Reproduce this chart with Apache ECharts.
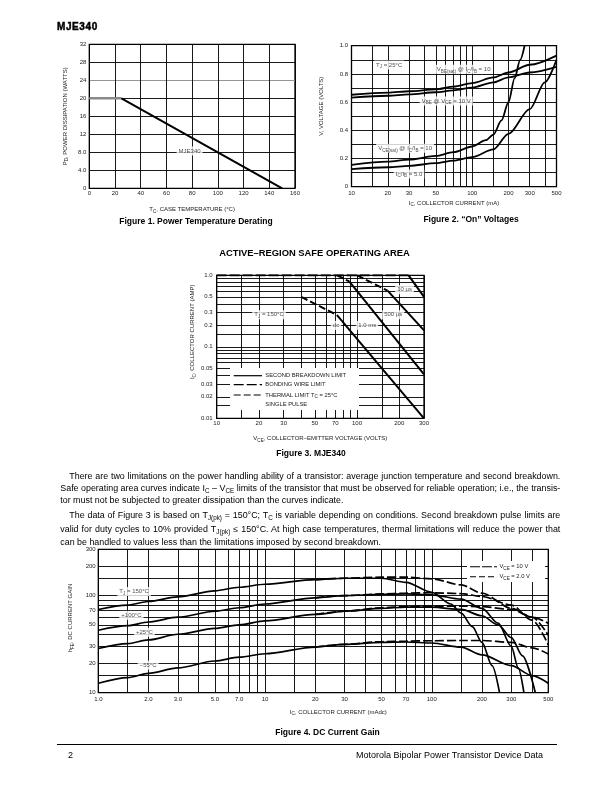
<!DOCTYPE html>
<html>
<head>
<meta charset="utf-8">
<title>MJE340</title>
<script src="https://cdn.jsdelivr.net/npm/echarts@6.0.0/dist/echarts.min.js"></script>
<style>
  html, body { margin:0; padding:0; background:#fff; }
  #page { position:relative; width:612px; height:792px; overflow:hidden; background:#fff;
          font-family:"Liberation Sans", Arial, Helvetica, sans-serif; color:#000; }
  #chart { position:absolute; left:0; top:0; width:612px; height:792px; }
  .txt { position:absolute; white-space:nowrap; line-height:10px; z-index:2; }
  .c { transform:translateX(-50%); }
  .cap { font-weight:bold; font-size:8.5px; }
  .para { font-size:8.9px; text-align:justify; text-align-last:justify; }
  .para.last { text-align-last:left; }
  sub { font-size:6.3px; vertical-align:-2px; line-height:0; }
</style>
</head>
<body>
<div id="page">
  <div id="chart"></div>
  <div class="txt" style="left:57px;top:21.5px;font-weight:900;font-size:10px;letter-spacing:0.6px;-webkit-text-stroke:0.45px #000;">MJE340</div>
  <div class="txt c cap" style="left:196px;top:215.5px;">Figure 1. Power Temperature Derating</div>
  <div class="txt c cap" style="left:471px;top:214px;">Figure 2. “On” Voltages</div>
  <div class="txt c" style="left:314.5px;top:248px;font-weight:bold;font-size:9.4px;">ACTIVE–REGION SAFE OPERATING AREA</div>
  <div class="txt c cap" style="left:311px;top:448.3px;">Figure 3. MJE340</div>

  <div class="txt para" style="left:69.3px;top:471px;width:491px;">There are two limitations on the power handling ability of a transistor: average junction temperature and second breakdown.</div>
  <div class="txt para" style="left:60.3px;top:483.3px;width:500px;">Safe operating area curves indicate I<sub>C</sub> – V<sub>CE</sub> limits of the transistor that must be observed for reliable operation; i.e., the transis-</div>
  <div class="txt para last" style="left:60.3px;top:495px;width:500px;">tor must not be subjected to greater dissipation than the curves indicate.</div>
  <div class="txt para" style="left:69.3px;top:509.7px;width:491px;">The data of Figure 3 is based on T<sub>J(pk)</sub> = 150°C; T<sub>C</sub> is variable depending on conditions. Second breakdown pulse limits are</div>
  <div class="txt para" style="left:60.3px;top:524.1px;width:500px;">valid for duty cycles to 10% provided T<sub>J(pk)</sub> ≤ 150°C. At high case temperatures, thermal limitations will reduce the power that</div>
  <div class="txt para last" style="left:60.3px;top:537px;width:500px;">can be handled to values less than the limitations imposed by second breakdown.</div>

  <div class="txt c cap" style="left:327.5px;top:727.3px;">Figure 4. DC Current Gain</div>
  <div style="position:absolute;left:57px;top:743.5px;width:500px;height:1.6px;background:#000;"></div>
  <div class="txt" style="left:68px;top:749.5px;font-size:9px;">2</div>
  <div class="txt" style="right:69px;top:749.5px;font-size:9px;">Motorola Bipolar Power Transistor Device Data</div>
</div>
<script>
// ================= DATA =================
// Figure 1 – power derating
const fig1TempC = [0, 25, 150];
const fig1PowerW = [20, 20, 0];
const fig1XTickText = ['0', '20', '40', '60', '80', '100', '120', '140', '160'];
const fig1YTickText = ['0', '4.0', '8.0', '12', '16', '20', '24', '28', '32'];

// Figure 2 – "On" voltages (IC in mA, V in volts)
const fig2VbeSatIc = [10, 20, 30, 50, 70, 100, 150, 200, 300, 500];
const fig2VbeSatV  = [0.652, 0.667, 0.677, 0.69, 0.71, 0.735, 0.775, 0.81, 0.865, 0.93];
const fig2VbeIc    = [10, 20, 30, 50, 70, 100, 150, 200, 300, 500];
const fig2VbeV     = [0.632, 0.645, 0.655, 0.67, 0.683, 0.703, 0.74, 0.775, 0.81, 0.85];
const fig2VceSat10Ic = [10, 20, 30, 50, 70, 100, 130, 150, 175, 200, 225, 250, 272];
const fig2VceSat10V  = [0.155, 0.178, 0.192, 0.218, 0.245, 0.285, 0.33, 0.37, 0.47, 0.6, 0.77, 0.9, 1.0];
const fig2VceSat5Ic  = [10, 20, 30, 50, 70, 100, 150, 200, 300, 400, 500];
const fig2VceSat5V   = [0.125, 0.138, 0.148, 0.167, 0.185, 0.21, 0.265, 0.375, 0.55, 0.74, 0.9];
const fig2XGrid = [10, 15, 20, 30, 40, 50, 60, 70, 80, 90, 100, 150, 200, 300, 400, 500];
const fig2XTickText = ['10', '20', '30', '50', '100', '200', '300', '500'];
const fig2YTickText = ['0', '', '0.2', '', '0.4', '', '0.6', '', '0.8', '', '1.0'];

// Figure 3 – safe operating area (VCE volts, IC amps)
const fig3BondV = [10, 233];           const fig3BondA = [1.0, 1.0];
const fig3DcThermV = [40, 72];         const fig3DcThermA = [0.5, 0.278];
const fig3DcSbV = [72, 300];           const fig3DcSbA = [0.278, 0.01];
const fig3Ms1ThermV = [72, 88];        const fig3Ms1ThermA = [1.0, 0.82];
const fig3Ms1SbV = [88, 300];          const fig3Ms1SbA = [0.82, 0.041];
const fig3Us500ThermV = [100, 165];    const fig3Us500ThermA = [1.0, 0.61];
const fig3Us500SbV = [165, 300];       const fig3Us500SbA = [0.61, 0.17];
const fig3Us10SbV = [233, 300];        const fig3Us10SbA = [1.0, 0.5];
const fig3XGrid = [10, 15, 20, 30, 40, 50, 60, 70, 80, 90, 100, 150, 200, 300];
const fig3YGrid = [0.01, 0.015, 0.02, 0.03, 0.04, 0.05, 0.06, 0.07, 0.08, 0.09, 0.1, 0.15, 0.2, 0.3, 0.4, 0.5, 0.6, 0.7, 0.8, 0.9, 1.0];
const fig3XTickText = ['10', '20', '30', '50', '70', '100', '200', '300'];
const fig3YTickText = ['0.01', '0.02', '0.03', '0.05', '0.1', '0.2', '0.3', '0.5', '1.0'];

// Figure 4 – DC current gain (IC mAdc, hFE)
const fig4LowIc   = [1, 1.5, 2, 3, 5, 7, 10, 20, 30];
const fig4Low150  = [72, 80, 87, 97, 112, 122, 131, 146, 151];
const fig4Low100  = [44, 49, 53.5, 60, 69, 75, 82, 95, 100];
const fig4Low25   = [28.5, 32, 35, 40, 46, 50, 55, 64, 69];
const fig4LowM55  = [12.5, 14.3, 15.8, 18, 21.2, 23.2, 25.2, 29.5, 31.5];
const fig4Hi2VIc150 = [50, 70, 100, 130, 150, 175, 200, 230, 255];
const fig4Hi2V150   = [151, 137, 108, 82, 66, 48, 33, 19, 10];
const fig4Hi2VIc100 = [50, 70, 100, 150, 200, 250, 300, 330, 357];
const fig4Hi2V100   = [103, 104, 102, 92, 74, 52, 30, 18, 10];
const fig4Hi2VIc25  = [50, 70, 100, 150, 200, 250, 300, 350, 418];
const fig4Hi2V25    = [74, 76, 76, 72, 62, 50, 37, 24, 10];
const fig4Hi2VIcM55 = [50, 70, 100, 150, 200, 300, 400, 500];
const fig4Hi2VM55   = [33, 33.3, 32.5, 29.5, 24.5, 19, 15, 12.5];
const fig4Hi10VIc   = [50, 70, 100, 150, 200, 300, 400, 500];
const fig4Hi10V150  = [155, 155, 149, 129, 106, 74, 60, 52];
const fig4Hi10V100  = [104, 106, 107, 105, 98, 80, 56, 31];
const fig4Hi10V25   = [75, 77, 78, 78, 77, 72, 60, 39];
const fig4Hi10VM55  = [33.5, 34, 34.3, 34.5, 34.5, 33, 29, 25];
const fig4XGrid = [1, 1.5, 2, 3, 4, 5, 6, 7, 8, 9, 10, 15, 20, 30, 40, 50, 60, 70, 80, 90, 100, 150, 200, 300, 400, 500];
const fig4YGrid = [10, 15, 20, 30, 40, 50, 60, 70, 80, 90, 100, 150, 200, 300];
const fig4XTickText = ['1.0', '2.0', '3.0', '5.0', '7.0', '10', '20', '30', '50', '70', '100', '200', '300', '500'];
const fig4YTickText = ['10', '20', '30', '50', '70', '100', '200', '300'];

// in-plot annotations (data coordinates)
const fig1Notes = [{t: 'MJE340', x: 78, y: 8.3}];
const fig2Notes = [
  {t: 'T{s|J} = 25°C', x: 20.5, y: 0.863},
  {t: 'V{s|BE(sat)} @ I{s|C}/I{s|B} = 10', x: 85, y: 0.833},
  {t: 'V{s|BE} @ V{s|CE} = 10 V', x: 61, y: 0.608},
  {t: 'V{s|CE(sat)} @ I{s|C}/I{s|B} = 10', x: 27.8, y: 0.272},
  {t: 'I{s|C}/I{s|B} = 5.0', x: 30, y: 0.09}
];
const fig3Notes = [
  {t: 'T{s|J} = 150°C', x: 23.6, y: 0.28},
  {t: 'dc', x: 70.8, y: 0.199},
  {t: '1.0 ms', x: 118, y: 0.199},
  {t: '500 µs', x: 181, y: 0.28},
  {t: '10 µs', x: 218, y: 0.628}
];
const fig4Notes = [
  {t: 'T{s|J} = 150°C', x: 1.64, y: 110},
  {t: '+100°C', x: 1.58, y: 62.6},
  {t: '+25°C', x: 1.89, y: 42},
  {t: '−55°C', x: 1.99, y: 19.2}
];

// ================= CHART =================
const FONT = '"Liberation Sans", Arial, Helvetica, sans-serif';
const INK = '#1a1a1a';
const SUB = {fontFamily: FONT, fontSize: 4.6, lineHeight: 5, verticalAlign: 'bottom', color: INK};

function zip(xs, ys) { return xs.map((x, i) => [x, ys[i]]); }
function nearestText(vals, texts) {
  return function (v) {
    let best = -1, bd = Infinity;
    for (let i = 0; i < vals.length; i++) {
      const d = Math.abs(Math.log(v) - Math.log(vals[i]));
      if (d < bd) { bd = d; best = i; }
    }
    return bd < 0.01 ? texts[best] : '';
  };
}
function nameStyle(pad) {
  return {fontFamily: FONT, fontSize: 6, color: INK, lineHeight: 9, padding: pad || 0, rich: {s: SUB}};
}
function labelStyle(margin) {
  return {fontFamily: FONT, fontSize: 6, color: INK, margin: margin, hideOverlap: false};
}
const SPLIT = {show: true, lineStyle: {color: '#000', width: 0.9}};

function logAxis(gi, min, max, grid, tickText, name, gap, margin, pad) {
  const vals = tickText.map(parseFloat);
  return {
    type: 'log', logBase: 10, gridIndex: gi, min: min, max: max,
    name: name, nameLocation: 'middle', nameGap: gap, nameTextStyle: nameStyle(pad),
    axisLine: {show: false},
    axisTick: {show: false, customValues: grid},
    axisLabel: Object.assign(labelStyle(margin), {customValues: vals, formatter: nearestText(vals, tickText)}),
    splitLine: SPLIT
  };
}
function line(xi, xs, ys, opts) {
  opts = opts || {};
  return {
    type: 'line', xAxisIndex: xi, yAxisIndex: xi, data: zip(xs, ys),
    symbol: 'none', silent: true, z: 3,
    smooth: opts.smooth === undefined ? 0.3 : opts.smooth, smoothMonotone: 'x',
    lineStyle: {color: opts.color || '#000', width: opts.width || 1.7, type: opts.dash || 'solid'}
  };
}
function notes(xi, items) {
  return {
    type: 'scatter', xAxisIndex: xi, yAxisIndex: xi, symbolSize: 0, silent: true, z: 8,
    data: items.map(n => ({name: n.t, value: [n.x, n.y]})),
    label: {show: true, position: 'inside', formatter: p => p.name,
            fontFamily: FONT, fontSize: 6, color: INK, lineHeight: 9,
            backgroundColor: '#fff', padding: [0, 2, 0, 2], rich: {s: SUB}}
  };
}

const DASH10 = [9, 3];
const option = {
  animation: false,
  textStyle: {fontFamily: FONT},
  grid: [
    {left: 89.3, top: 44.3, width: 205.7, height: 144, show: true, borderColor: '#000', borderWidth: 1.3, outerBoundsMode: 'none'},
    {left: 351.5, top: 45.7, width: 205, height: 141, show: true, borderColor: '#000', borderWidth: 1.3, outerBoundsMode: 'none'},
    {left: 216.7, top: 275.3, width: 207.3, height: 143, show: true, borderColor: '#000', borderWidth: 1.3, outerBoundsMode: 'none'},
    {left: 98.3, top: 549.3, width: 450, height: 143.4, show: true, borderColor: '#000', borderWidth: 1.3, outerBoundsMode: 'none'}
  ],
  xAxis: [
    {type: 'value', gridIndex: 0, min: 0, max: 160, interval: 20,
     name: 'T{s|C}, CASE TEMPERATURE (°C)', nameLocation: 'middle', nameGap: 16.5, nameTextStyle: nameStyle(),
     axisLine: {show: false}, axisTick: {show: false},
     axisLabel: Object.assign(labelStyle(2.5), {formatter: v => fig1XTickText[Math.round(v / 20)]}),
     splitLine: SPLIT},
    logAxis(1, 10, 500, fig2XGrid, fig2XTickText, 'I{s|C}, COLLECTOR CURRENT (mA)', 12, 3.5),
    logAxis(2, 10, 300, fig3XGrid, fig3XTickText, 'V{s|CE}, COLLECTOR–EMITTER VOLTAGE (VOLTS)', 15.5, 2.5),
    logAxis(3, 1, 500, fig4XGrid, fig4XTickText, 'I{s|C}, COLLECTOR CURRENT (mAdc)', 15, 3.5, [0, 0, 0, 30])
  ],
  yAxis: [
    {type: 'value', gridIndex: 0, min: 0, max: 32, interval: 4,
     name: 'P{s|D}, POWER DISSIPATION (WATTS)', nameLocation: 'middle', nameGap: 19.8, nameTextStyle: nameStyle(),
     axisLine: {show: false}, axisTick: {show: false},
     axisLabel: Object.assign(labelStyle(3), {formatter: v => fig1YTickText[Math.round(v / 4)]}),
     splitLine: {show: true, lineStyle: {width: 0.9, color: ['#000', '#000', '#000', '#000', '#000', '#000', '#8a8a8a', '#000', '#000']}}},
    {type: 'value', gridIndex: 1, min: 0, max: 1, interval: 0.1,
     name: 'V, VOLTAGE (VOLTS)', nameLocation: 'middle', nameGap: 26, nameTextStyle: nameStyle([0, 0, 0, 20]),
     axisLine: {show: false}, axisTick: {show: false},
     axisLabel: Object.assign(labelStyle(3.5), {formatter: v => fig2YTickText[Math.round(v * 10)]}),
     splitLine: SPLIT},
    logAxis(2, 0.01, 1, fig3YGrid, fig3YTickText, 'I{s|C}, COLLECTOR CURRENT (AMP)', 19.5, 4, [0, 0, 0, 30]),
    logAxis(3, 10, 300, fig4YGrid, fig4YTickText, 'h{s|FE}, DC CURRENT GAIN', 22, 2.6, [0, 0, 0, 6])
  ],
  series: [
    // Figure 1
    line(0, fig1TempC.slice(0, 2), fig1PowerW.slice(0, 2), {color: '#8a8a8a', width: 2.6, smooth: false}),
    line(0, fig1TempC.slice(1), fig1PowerW.slice(1), {width: 2, smooth: false}),
    notes(0, fig1Notes),
    // Figure 2
    line(1, fig2VbeSatIc, fig2VbeSatV, {width: 1.8}),
    line(1, fig2VbeIc, fig2VbeV, {width: 1.8}),
    line(1, fig2VceSat10Ic, fig2VceSat10V, {width: 1.8}),
    line(1, fig2VceSat5Ic, fig2VceSat5V, {width: 1.8}),
    notes(1, fig2Notes),
    // Figure 3
    line(2, fig3BondV, fig3BondA, {width: 2, dash: [10, 3], smooth: false}),
    line(2, fig3DcThermV, fig3DcThermA, {width: 2, dash: [7, 3], smooth: false}),
    line(2, fig3DcSbV, fig3DcSbA, {width: 2, smooth: false}),
    line(2, fig3Ms1ThermV, fig3Ms1ThermA, {width: 2, dash: [7, 3], smooth: false}),
    line(2, fig3Ms1SbV, fig3Ms1SbA, {width: 2, smooth: false}),
    line(2, fig3Us500ThermV, fig3Us500ThermA, {width: 2, dash: [7, 3], smooth: false}),
    line(2, fig3Us500SbV, fig3Us500SbA, {width: 2, smooth: false}),
    line(2, fig3Us10SbV, fig3Us10SbA, {width: 2, smooth: false}),
    notes(2, fig3Notes),
    // Figure 4 – VCE = 2.0 V (solid)
    line(3, fig4LowIc.concat(fig4Hi2VIc150), fig4Low150.concat(fig4Hi2V150)),
    line(3, fig4LowIc.concat(fig4Hi2VIc100), fig4Low100.concat(fig4Hi2V100)),
    line(3, fig4LowIc.concat(fig4Hi2VIc25), fig4Low25.concat(fig4Hi2V25)),
    line(3, fig4LowIc.concat(fig4Hi2VIcM55), fig4LowM55.concat(fig4Hi2VM55)),
    // Figure 4 – VCE = 10 V (dashed)
    line(3, fig4LowIc.slice(-2).concat(fig4Hi10VIc), fig4Low150.slice(-2).concat(fig4Hi10V150), {dash: DASH10}),
    line(3, fig4LowIc.slice(-2).concat(fig4Hi10VIc), fig4Low100.slice(-2).concat(fig4Hi10V100), {dash: DASH10}),
    line(3, fig4LowIc.slice(-2).concat(fig4Hi10VIc), fig4Low25.slice(-2).concat(fig4Hi10V25), {dash: DASH10}),
    line(3, fig4LowIc.slice(-2).concat(fig4Hi10VIc), fig4LowM55.slice(-2).concat(fig4Hi10VM55), {dash: DASH10}),
    notes(3, fig4Notes)
  ],
  graphic: [
    // Figure 3 legend
    {type: 'rect', z: 20, shape: {x: 230, y: 368, width: 129, height: 42}, style: {fill: '#fff'}},
    {type: 'line', z: 21, shape: {x1: 233.7, y1: 375.7, x2: 262, y2: 375.7}, style: {stroke: '#000', lineWidth: 1.2}},
    {type: 'line', z: 21, shape: {x1: 233.7, y1: 384.7, x2: 262, y2: 384.7}, style: {stroke: '#000', lineWidth: 1.2, lineDash: [10, 3]}},
    {type: 'line', z: 21, shape: {x1: 233.7, y1: 395, x2: 262, y2: 395}, style: {stroke: '#000', lineWidth: 1.2, lineDash: [7, 3]}},
    {type: 'text', z: 21, x: 265.3, y: 375.7, style: {text: 'SECOND BREAKDOWN LIMIT', fontFamily: FONT, fontSize: 5.8, fill: INK, verticalAlign: 'middle'}},
    {type: 'text', z: 21, x: 265.3, y: 384.7, style: {text: 'BONDING WIRE LIMIT', fontFamily: FONT, fontSize: 5.8, fill: INK, verticalAlign: 'middle'}},
    {type: 'text', z: 21, x: 265.3, y: 395, style: {text: 'THERMAL LIMIT T{s|C} = 25°C', fontFamily: FONT, fontSize: 5.8, lineHeight: 9, fill: INK, verticalAlign: 'middle', rich: {s: SUB}}},
    {type: 'text', z: 21, x: 265.3, y: 404.7, style: {text: 'SINGLE PULSE', fontFamily: FONT, fontSize: 5.8, fill: INK, verticalAlign: 'middle'}},
    // Figure 4 legend
    {type: 'rect', z: 20, shape: {x: 467, y: 561, width: 78, height: 21}, style: {fill: '#fff'}},
    {type: 'line', z: 21, shape: {x1: 470, y1: 566.7, x2: 497, y2: 566.7}, style: {stroke: '#000', lineWidth: 1.1, lineDash: [10, 2]}},
    {type: 'line', z: 21, shape: {x1: 470, y1: 576.7, x2: 497, y2: 576.7}, style: {stroke: '#000', lineWidth: 1.1, lineDash: [6, 3]}},
    {type: 'text', z: 21, x: 499.5, y: 566.7, style: {text: 'V{s|CE} = 10 V', fontFamily: FONT, fontSize: 5.8, lineHeight: 9, fill: INK, verticalAlign: 'middle', rich: {s: SUB}}},
    {type: 'text', z: 21, x: 499.5, y: 576.7, style: {text: 'V{s|CE} = 2.0 V', fontFamily: FONT, fontSize: 5.8, lineHeight: 9, fill: INK, verticalAlign: 'middle', rich: {s: SUB}}}
  ]
};
const chart = echarts.init(document.getElementById('chart'), null, {renderer: 'canvas', width: 612, height: 792});
chart.setOption(option);
</script>
</body>
</html>
